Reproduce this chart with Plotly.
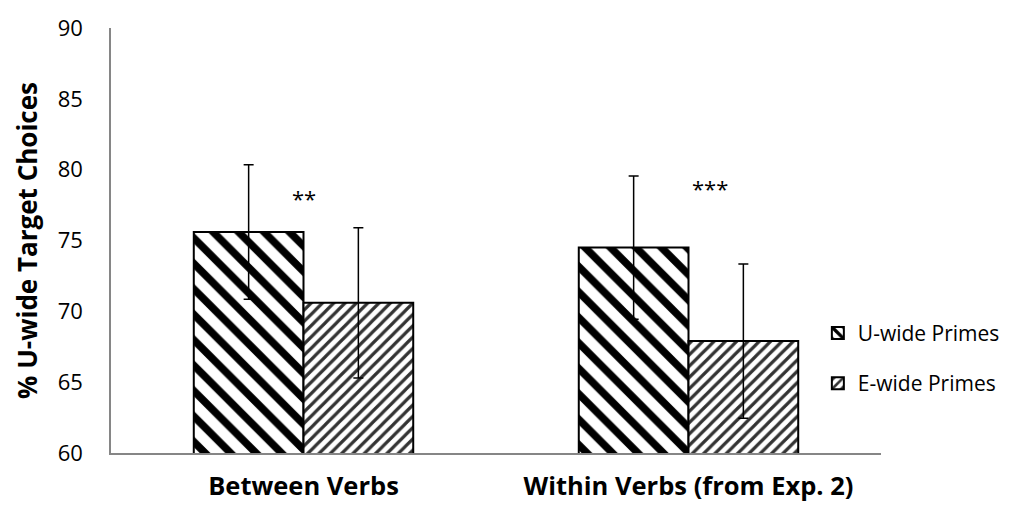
import plotly.graph_objects as go

categories = ["Between Verbs", "Within Verbs (from Exp. 2)"]
u_wide = [75.6, 74.5]
u_err = [4.75, 5.05]
e_wide = [70.6, 67.9]
e_err = [5.3, 5.45]
series_names = ["U-wide Primes", "E-wide Primes"]
sig_labels = ["**", "***"]
sig_x = [0.0, 1.055]
sig_y = [78.0, 78.7]
y_ticks = [60, 65, 70, 75, 80, 85, 90]

FONT = "Open Sans"

fig = go.Figure()
fig.add_trace(go.Bar(
    x=[0, 1], y=u_wide, name=series_names[0], legendgroup="u",
    marker=dict(color="white", line=dict(color="black", width=2),
                pattern=dict(shape="\\", fgcolor="black", bgcolor="white",
                             size=18, solidity=0.42, fgopacity=1,
                             fillmode="replace")),
    error_y=dict(type="data", array=u_err, visible=True, color="black",
                 thickness=1.5, width=5),
))
fig.add_trace(go.Bar(
    x=[0, 1], y=e_wide, name=series_names[1], legendgroup="e",
    marker=dict(color="white", line=dict(color="black", width=2),
                pattern=dict(shape="/", fgcolor="#333333", bgcolor="white",
                             size=8, solidity=0.4, fgopacity=1,
                             fillmode="replace")),
    error_y=dict(type="data", array=e_err, visible=True, color="black",
                 thickness=1.5, width=5),
))

for lbl, xx, yy in zip(sig_labels, sig_x, sig_y):
    fig.add_annotation(x=xx, y=yy, text=lbl, showarrow=False,
                       font=dict(family=FONT, size=22, color="black"))

fig.update_layout(
    width=1015, height=506,
    margin=dict(l=103, r=142, t=20, b=61, autoexpand=False),
    plot_bgcolor="white", paper_bgcolor="white",
    barmode="group", bargap=0.43, bargroupgap=0,
    font=dict(family=FONT, color="black"),
    showlegend=True,
    legend=dict(x=0.918, y=0.33, yanchor="top", xanchor="left",
                font=dict(family=FONT, size=21, color="black"),
                tracegroupgap=20, itemwidth=30, bgcolor="rgba(0,0,0,0)"),
    xaxis=dict(range=[-0.5, 1.5], tickmode="array", tickvals=[0, 1],
               ticktext=[f"<b>{c}</b>" for c in categories],
               showline=True, linecolor="#868686", linewidth=1.5,
               ticks="outside", ticklen=10, tickcolor="white",
               showgrid=False, zeroline=False,
               tickfont=dict(family=FONT, size=25.5, color="black")),
    yaxis=dict(range=[60, 90], tickmode="array", tickvals=y_ticks,
               showline=True, linecolor="#868686", linewidth=1.5,
               ticks="outside", ticklen=22, tickcolor="white",
               showgrid=False, zeroline=False,
               title=dict(text="<b>% U-wide Target Choices</b>",
                          font=dict(family=FONT, size=26, color="black"),
                          standoff=13),
               tickfont=dict(family=FONT, size=22, color="black")),
)

fig.write_html("out.html")
